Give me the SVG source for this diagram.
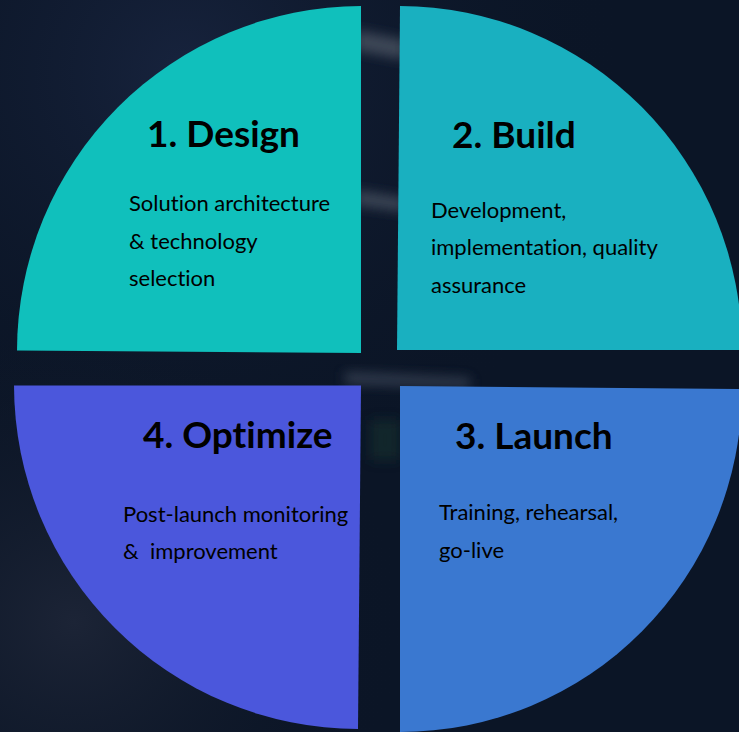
<svg xmlns="http://www.w3.org/2000/svg" width="739" height="732" viewBox="0 0 739 732">
  <defs>
    <filter id="blur" x="-50%" y="-50%" width="200%" height="200%">
      <feGaussianBlur stdDeviation="6"/>
    </filter>
    <radialGradient id="topGlow" cx="0.25" cy="0.1" r="0.6">
      <stop offset="0" stop-color="#17233D"/>
      <stop offset="1" stop-color="#0B1526" stop-opacity="0"/>
    </radialGradient>
    <radialGradient id="shoulder" cx="0.1" cy="0.85" r="0.45">
      <stop offset="0" stop-color="#1C2436"/>
      <stop offset="1" stop-color="#0B1526" stop-opacity="0"/>
    </radialGradient>
    <style>
      .title { font-family: Lato, "Liberation Sans", sans-serif; font-weight: 700; font-size: 37px; fill: #000; font-variant-ligatures: none; }
      .body { font-family: Lato, "Liberation Sans", sans-serif; font-size: 22px; fill: #000; white-space: pre; font-variant-ligatures: none; }
    </style>
  </defs>

  <g id="background">
    <rect x="0" y="0" width="739" height="732" fill="#0B1526"/>
    <rect x="0" y="0" width="739" height="732" fill="url(#topGlow)"/>
    <rect x="0" y="0" width="739" height="732" fill="url(#shoulder)"/>
    <path d="M355,30 L405,40 L405,60 L355,50 Z" fill="#3C4656" filter="url(#blur)"/>
    <path d="M355,190 L405,198 L405,212 L355,205 Z" fill="#3A4454" filter="url(#blur)"/>
    <path d="M345,372 L470,378 L470,388 L345,384 Z" fill="#3B4556" filter="url(#blur)" opacity="0.8"/>
    <rect x="370" y="420" width="30" height="40" fill="#15302E" filter="url(#blur)" opacity="0.6"/>
  </g>

  <g id="design">
    <path d="M361,6 L361,353 L17,350.5 A 345 345 0 0 1 361,6 Z" fill="#10C0BC"/>
    <text class="title" x="147" y="147">1. Design</text>
    <text class="body" x="129" y="211">Solution architecture</text>
    <text class="body" x="129" y="249">&amp; technology</text>
    <text class="body" x="129" y="286">selection</text>
  </g>

  <g id="build">
    <path d="M400,6 A 343 344 0 0 1 742,350 L397,350 Z" fill="#19B0C0"/>
    <text class="title" x="452" y="148">2. Build</text>
    <text class="body" x="431" y="218">Development,</text>
    <text class="body" x="431" y="255">implementation, quality</text>
    <text class="body" x="431" y="293">assurance</text>
  </g>

  <g id="launch">
    <path d="M400,386 L742,389 A 342 343 0 0 1 400,732 Z" fill="#3A78D0"/>
    <text class="title" x="455" y="449">3. Launch</text>
    <text class="body" x="439" y="520">Training, rehearsal,</text>
    <text class="body" x="439" y="558">go-live</text>
  </g>

  <g id="optimize">
    <path d="M14,385.5 L361,385.5 L358,729 A 345 344 0 0 1 14,385.5 Z" fill="#4B57DC"/>
    <text class="title" x="143" y="448">4. Optimize</text>
    <text class="body" x="123" y="522">Post-launch monitoring</text>
    <text class="body" x="123" y="559">&amp;  improvement</text>
  </g>

  <g id="connectors"/>
</svg>
